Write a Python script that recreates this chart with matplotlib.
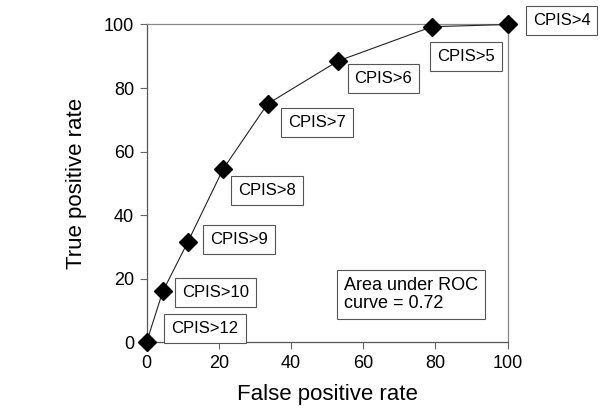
import matplotlib
matplotlib.use("Agg")
import matplotlib.pyplot as plt

plt.rcParams['font.family'] = ['Liberation Sans', 'DejaVu Sans']

# ROC points
fpr = [0, 4.5, 11.4, 21.2, 33.5, 53, 79, 100]
tpr = [0, 16, 31.5, 54.5, 75, 88.5, 99.3, 100]

labels = ['CPIS>12', 'CPIS>10', 'CPIS>9', 'CPIS>8', 'CPIS>7', 'CPIS>6', 'CPIS>5', 'CPIS>4']
label_x = [16.2, 19.2, 25.7, 33.3, 47.1, 65.6, 88.5, 114.9]
label_y = [4.2, 15.7, 32.3, 47.9, 69.2, 82.9, 89.8, 101.1]

auc_text = 'Area under ROC\ncurve = 0.72'

fig = plt.figure(figsize=(6.03, 4.11), dpi=100)
ax = fig.add_axes([0.2430, 0.1672, 0.8420 - 0.2430, 0.9404 - 0.1672])

ax.plot(fpr, tpr, color='#222222', lw=0.8, marker='D', ms=9,
        mfc='black', mec='black', clip_on=False, zorder=3)

box = dict(boxstyle='square,pad=0.42', fc='white', ec='#555555', lw=0.8)
for s, x, y in zip(labels, label_x, label_y):
    ax.text(x, y, s, fontsize=12, ha='center', va='center', bbox=box,
            clip_on=False, zorder=4)

ax.text(54.7, 15, auc_text, fontsize=13, ha='left', va='center',
        linespacing=1.1, bbox=dict(boxstyle='square,pad=0.4', fc='white',
                                   ec='#555555', lw=0.8))

ax.set_xlim(0, 100)
ax.set_ylim(0, 100)
ax.set_xticks([0, 20, 40, 60, 80, 100])
ax.set_yticks([0, 20, 40, 60, 80, 100])
ax.tick_params(direction='out', length=5, width=0.8, colors='#666666',
               labelsize=13, labelcolor='black', pad=4)

for side in ['left', 'bottom']:
    ax.spines[side].set_color('#555555')
    ax.spines[side].set_linewidth(0.9)
for side in ['top', 'right']:
    ax.spines[side].set_color('#888888')
    ax.spines[side].set_linewidth(0.9)

ax.set_xlabel('False positive rate', fontsize=16, labelpad=9)
ax.set_ylabel('True positive rate', fontsize=16, labelpad=12)

fig.savefig('out.png', dpi=100)
